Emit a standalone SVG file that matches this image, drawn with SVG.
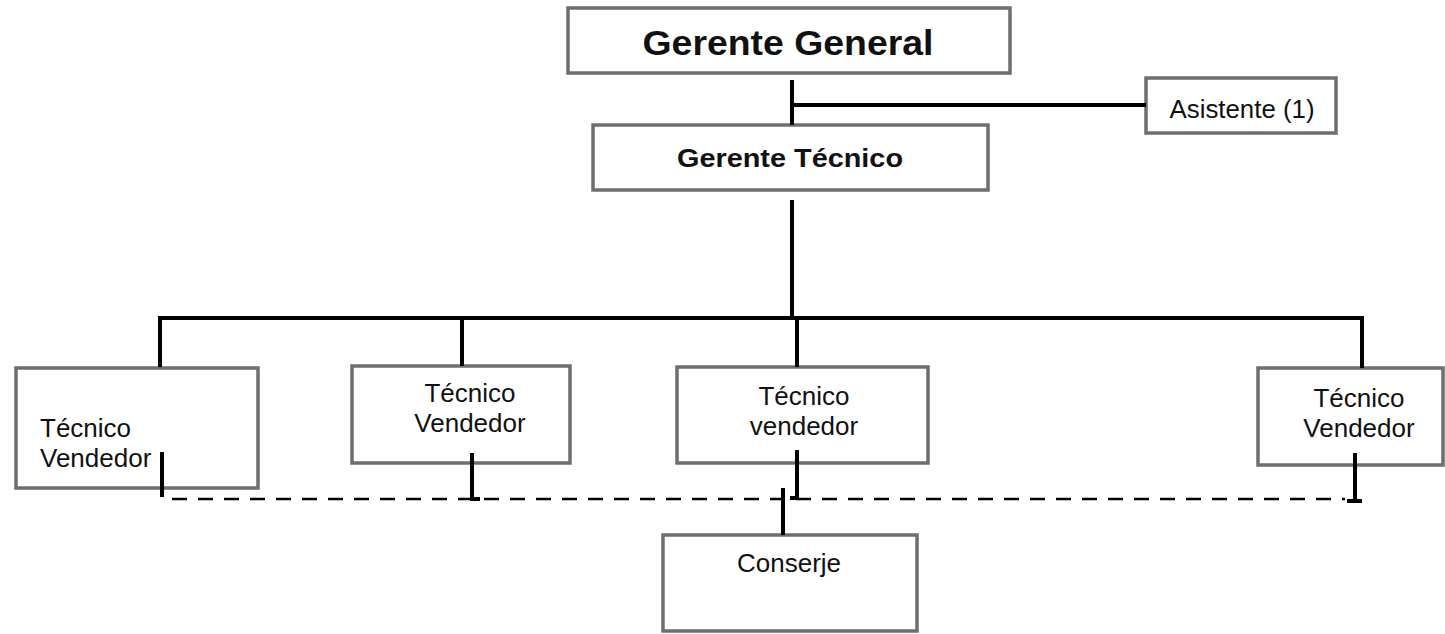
<svg xmlns="http://www.w3.org/2000/svg" width="1445" height="634" viewBox="0 0 1445 634">
<style>
.box{fill:#fff;stroke:#6e6e6e;stroke-width:3.5}
.ln{stroke:#000;stroke-width:4;fill:none}
.dash{stroke:#000;stroke-width:2.5;fill:none;stroke-dasharray:15 11}
text{font-family:"Liberation Sans",Arial,sans-serif;fill:#111}
.t{font-size:26px}
</style>
<rect width="1445" height="634" fill="#fff"/>
<g id="gerente-general">
<rect class="box" x="568" y="8" width="442" height="65"/>
<text x="788" y="55" font-size="35" font-weight="bold" text-anchor="middle" textLength="291" lengthAdjust="spacingAndGlyphs">Gerente General</text>
</g>
<g id="asistente">
<rect class="box" x="1146" y="78" width="190" height="55"/>
<text x="1242" y="118" font-size="25" text-anchor="middle" textLength="145" lengthAdjust="spacingAndGlyphs">Asistente (1)</text>
</g>
<g id="gerente-tecnico">
<rect class="box" x="593" y="125" width="395" height="65"/>
<text x="790" y="167" font-size="26" font-weight="bold" text-anchor="middle" textLength="226" lengthAdjust="spacingAndGlyphs">Gerente Técnico</text>
</g>
<g id="tecnico-1">
<rect class="box" x="16" y="368" width="242" height="120"/>
<text class="t" x="40" y="437">Técnico</text>
<text class="t" x="40" y="467">Vendedor</text>
</g>
<g id="tecnico-2">
<rect class="box" x="352" y="366" width="218" height="97"/>
<text class="t" x="470" y="402" text-anchor="middle">Técnico</text>
<text class="t" x="470" y="432" text-anchor="middle">Vendedor</text>
</g>
<g id="tecnico-3">
<rect class="box" x="677" y="367" width="251" height="96"/>
<text class="t" x="804" y="405" text-anchor="middle">Técnico</text>
<text class="t" x="804" y="435" text-anchor="middle">vendedor</text>
</g>
<g id="tecnico-4">
<rect class="box" x="1258" y="368" width="185" height="97"/>
<text class="t" x="1359" y="407" text-anchor="middle">Técnico</text>
<text class="t" x="1359" y="437" text-anchor="middle">Vendedor</text>
</g>
<g id="conserje">
<rect class="box" x="663" y="535" width="254" height="96"/>
<text class="t" x="789" y="572" text-anchor="middle">Conserje</text>
</g>
<g id="connectors">
<path class="ln" d="M792 80 V125"/>
<path class="ln" d="M790 105 H1146"/>
<path class="ln" d="M792 200 V318"/>
<path class="ln" d="M160 367 V318 H1362 V368"/>
<path class="ln" d="M462 318 V366"/>
<path class="ln" d="M797 318 V367"/>
<path class="ln" d="M162 452 V497"/>
<path class="ln" d="M472 453 V499 H480"/>
<path class="ln" d="M797 450 V498 H790"/>
<path class="ln" d="M783 488 V535"/>
<path class="ln" d="M1355 453 V501 M1347 501 H1362"/>
<path class="dash" d="M172 499 H1345"/>
</g>
</svg>
